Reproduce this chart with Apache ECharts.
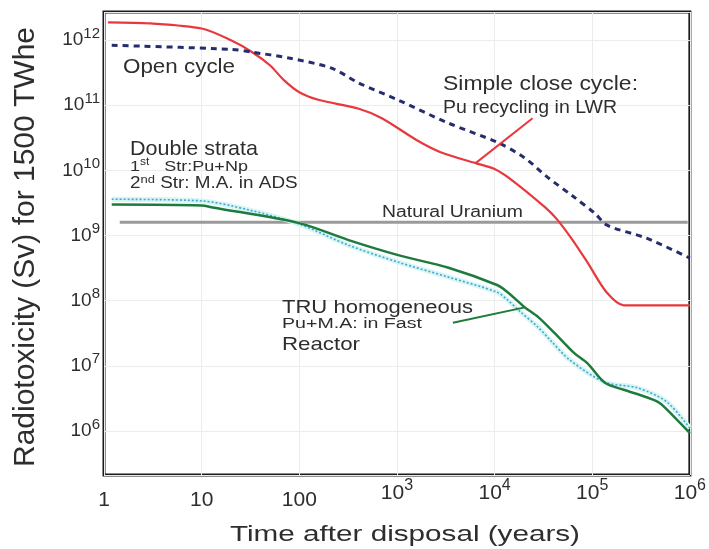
<!DOCTYPE html>
<html><head><meta charset="utf-8">
<script src="https://cdn.jsdelivr.net/npm/echarts@6/dist/echarts.min.js"></script>
<style>html,body{margin:0;padding:0;background:#fff}#c{width:709px;height:549px}</style>
</head><body><div id="c"></div>
<script>
// ---- data (time in years, radiotoxicity in Sv) ----
const openT  = [1.2, 20, 33, 78, 214, 405, 1030, 3370, 10600, 20000, 35000, 65000, 106000, 142000, 360000, 1000000];
const openV  = [8.3e11, 7.2e11, 6.5e11, 5.3e11, 3.7e11, 2.2e11, 1.2e11, 5.3e10, 2.7e10, 1.58e10, 7.8e9, 3.9e9, 2.2e9, 1.44e9, 9.1e8, 4.5e8];
const closeT = [1.1, 3, 10, 20, 33, 50, 70, 100, 160, 400, 700, 1600, 2800, 6400, 10000, 15000, 33000, 44000, 63000, 90000, 140000, 210000, 1000000];
const closeV = [1.87e12, 1.8e12, 1.5e12, 9.9e11, 6.5e11, 4.1e11, 2.4e11, 1.58e11, 1.2e11, 8.9e10, 6.3e10, 2.9e10, 1.9e10, 1.29e10, 1.05e10, 7.1e9, 2.7e9, 1.74e9, 8.5e8, 3.8e8, 1.35e8, 8.5e7, 8.5e7];
const truT   = [1.2, 10, 13, 100, 320, 1030, 3370, 10600, 13600, 20400, 28000, 41000, 65000, 89000, 135000, 210000, 360000, 490000, 690000, 1000000];
const truV   = [3.0e9, 2.9e9, 2.7e9, 1.55e9, 8.5e8, 5.0e8, 3.2e8, 1.74e8, 1.35e8, 7.9e7, 5.6e7, 3.2e7, 1.58e7, 1.1e7, 5.5e6, 4.3e6, 3.3e6, 2.7e6, 1.65e6, 9.3e5];
const dsT    = [1.2, 10, 31, 100, 320, 1030, 3370, 10600, 13600, 18500, 28000, 37000, 59000, 135000, 290000, 580000, 1000000];
const dsV    = [3.6e9, 3.4e9, 2.45e9, 1.5e9, 7.1e8, 3.9e8, 2.3e8, 1.35e8, 1.02e8, 6.7e7, 3.9e7, 2.5e7, 1.23e7, 5.6e6, 4.6e6, 2.8e6, 1.1e6];
const uranT  = [1.45, 950000];
const uranV  = [1.6e9, 1.6e9];
const ptrCloseT = [24500, 6400];
const ptrCloseV = [6.3e10, 1.29e10];
const ptrTruT   = [3740, 20400];
const ptrTruV   = [4.6e7, 7.9e7];
const xMin = 1, xMax = 1e6;
const yMin = Math.pow(10, 5.325), yMax = Math.pow(10, 12.43);

const zip = (a, b) => a.map((v, i) => [v, b[i]]);

const FF = '"Liberation Sans", Arial, Helvetica, sans-serif';
const ctx = document.createElement('canvas').getContext('2d');
function fit(text, size, target) {
  ctx.font = size + 'px ' + FF;
  return target / ctx.measureText(text).width;
}
const TXT = '#2e2e2e';
function label(text, x, y, size, width) {
  return {
    type: 'text', x: x, y: y, scaleX: fit(text, size, width), z: 100,
    style: { text: text, font: size + 'px ' + FF, fill: TXT, align: 'left', verticalAlign: 'middle', textAlign: 'left', textVerticalAlign: 'middle' }
  };
}
function supLabel(parts, x, y, size, sx) {
  return {
    type: 'text', x: x, y: y, scaleX: sx, z: 100,
    style: {
      text: parts, fill: TXT, align: 'left', verticalAlign: 'middle', textAlign: 'left', textVerticalAlign: 'middle',
      rich: {
        n: { fontSize: size, fontFamily: FF, color: TXT, lineHeight: 20 },
        s: { fontSize: Math.round(size * 0.68), fontFamily: FF, color: TXT, lineHeight: 10, verticalAlign: 'top' }
      }
    }
  };
}

const chart = echarts.init(document.getElementById('c'), null, { renderer: 'canvas' });
const option = {
  backgroundColor: '#ffffff',
  animation: false,
  grid: { left: 104, right: 16, top: 12, bottom: 74, show: true, borderColor: '#1a1a1a', borderWidth: 3, backgroundColor: 'transparent' },
  xAxis: {
    type: 'log', logBase: 10, min: xMin, max: xMax,
    axisLine: { show: false }, axisTick: { show: false },
    splitLine: { show: true, lineStyle: { color: '#ececec', width: 1 } },
    axisLabel: {
      margin: 3, color: TXT,
      formatter: function (v) {
        const e = Math.round(Math.log10(v));
        if (e === 0) return '{p|1}';
        if (e === 1) return '{p|10}';
        if (e === 2) return '{p|100}';
        return '{b|10}{s|' + e + '}';
      },
      rich: {
        p: { fontSize: 21, fontFamily: FF, color: TXT, lineHeight: 44 },
        b: { fontSize: 21, fontFamily: FF, color: TXT, lineHeight: 30 },
        s: { fontSize: 16, fontFamily: FF, color: TXT, lineHeight: 12, verticalAlign: 'top' }
      }
    }
  },
  yAxis: {
    type: 'log', logBase: 10, min: yMin, max: yMax,
    axisLine: { show: false }, axisTick: { show: false },
    splitLine: { show: true, lineStyle: { color: '#ececec', width: 1 } },
    axisLabel: {
      margin: 4, color: TXT, showMinLabel: false, showMaxLabel: false,
      formatter: function (v) {
        const e = Math.round(Math.log10(v));
        return '{b|10}{s|' + e + '}';
      },
      rich: {
        b: { fontSize: 19, fontFamily: FF, color: TXT, lineHeight: 28 },
        s: { fontSize: 15, fontFamily: FF, color: TXT, lineHeight: 10, verticalAlign: 'top' }
      }
    }
  },
  series: [
    { name: 'Natural Uranium', type: 'line', data: zip(uranT, uranV), showSymbol: false, silent: true, z: 2,
      lineStyle: { color: '#9a9a9a', width: 3 } },
    { name: 'Double strata glow', type: 'line', data: zip(dsT, dsV), showSymbol: false, silent: true, smooth: 0.3, z: 3,
      lineStyle: { color: '#d6f6f3', width: 5 } },
    { name: 'Double strata', type: 'line', data: zip(dsT, dsV), showSymbol: false, smooth: 0.3, z: 4,
      lineStyle: { color: '#45a3d6', width: 1.6, type: [2, 2] } },
    { name: 'TRU homogeneous', type: 'line', data: zip(truT, truV), showSymbol: false, smooth: 0.3, z: 5,
      lineStyle: { color: '#1f7a3d', width: 2.5 } },
    { name: 'Simple close cycle', type: 'line', data: zip(closeT, closeV), showSymbol: false, smooth: 0.3, z: 5,
      lineStyle: { color: '#e8383d', width: 2.2 } },
    { name: 'Open cycle', type: 'line', data: zip(openT, openV), showSymbol: false, smooth: 0.3, z: 6,
      lineStyle: { color: '#252d6c', width: 3, type: [6, 5] } },
    { name: 'ptr close', type: 'line', data: zip(ptrCloseT, ptrCloseV), showSymbol: false, silent: true, z: 6,
      lineStyle: { color: '#e8383d', width: 2 } },
    { name: 'ptr tru', type: 'line', data: zip(ptrTruT, ptrTruV), showSymbol: false, silent: true, z: 6,
      lineStyle: { color: '#1f7a3d', width: 2 } }
  ],
  graphic: [
    label('Open cycle', 123, 67.5, 21, 112),
    label('Double strata', 130, 149.5, 21, 128),
    supLabel('{n|1}{s|st}{n|   Str:Pu+Np}', 130, 167, 15, 1.2),
    supLabel('{n|2}{s|nd}{n| Str: M.A. in ADS}', 130, 184, 16, 1.18),
    label('Simple close cycle:', 443, 85, 19.5, 195),
    label('Pu recycling in LWR', 443, 108.5, 18, 174),
    label('Natural Uranium', 382, 212.5, 16, 141),
    label('TRU homogeneous', 282, 308.5, 18, 191),
    label('Pu+M.A: in Fast', 282, 323.5, 15.5, 140),
    label('Reactor', 282, 345, 19, 78),
    {
      type: 'text', x: 405, y: 534.5, z: 100,
      scaleX: fit('Time after disposal (years)', 22, 350),
      style: { text: 'Time after disposal (years)', font: '22px ' + FF, fill: TXT, align: 'center', verticalAlign: 'middle', textAlign: 'center', textVerticalAlign: 'middle' }
    },
    {
      type: 'text', x: 26, y: 247, rotation: Math.PI / 2, z: 100,
      scaleX: fit('Radiotoxicity (Sv) for 1500 TWhe', 30, 440),
      style: { text: 'Radiotoxicity (Sv) for 1500 TWhe', font: '30px ' + FF, fill: TXT, align: 'center', verticalAlign: 'middle', textAlign: 'center', textVerticalAlign: 'middle' }
    }
  ]
};
chart.setOption(option);
</script>
</body></html>
